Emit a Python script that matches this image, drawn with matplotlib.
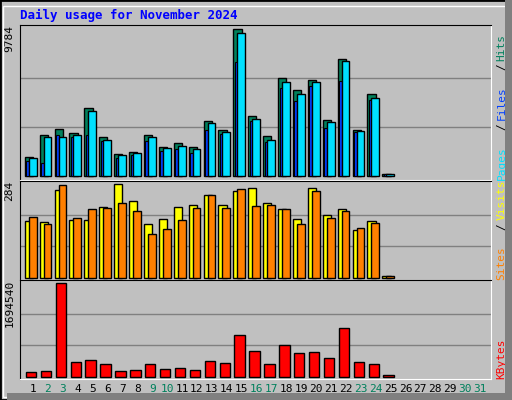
import matplotlib
matplotlib.use("Agg")
import matplotlib.pyplot as plt
from matplotlib.patches import Rectangle

days = list(range(1, 32))
hits = [1284, 2745, 3143, 2878, 4538, 2612, 1483, 1616, 2745, 1948, 2214, 1948, 3675, 3077, 9784, 4007, 2678, 6530, 5733, 6397, 3741, 7792, 3077, 5468, 177]
files = [1217, 2612, 2612, 2745, 4339, 2413, 1417, 1550, 2612, 1882, 2014, 1815, 3542, 2944, 9518, 3807, 2413, 6265, 5468, 6265, 3608, 7659, 3010, 5202, 155]
pages = [1018, 885, 2745, 2612, 2745, 2346, 1217, 1417, 2346, 1682, 1815, 1550, 3077, 2811, 7593, 3675, 2280, 5866, 5003, 5999, 3210, 6331, 2944, 5069, 155]
visits = [173, 170, 265, 176, 176, 213, 284, 232, 161, 179, 213, 219, 250, 219, 262, 272, 225, 207, 179, 272, 191, 207, 145, 173, 6]
sites = [185, 164, 281, 182, 207, 210, 225, 201, 133, 148, 176, 210, 250, 210, 269, 216, 219, 207, 164, 262, 182, 201, 151, 167, 6]
kbytes = [80400, 99000, 1694540, 266000, 303000, 229000, 99000, 117500, 229000, 136000, 155000, 117500, 284000, 247000, 748000, 470000, 229000, 581000, 433000, 451000, 340000, 878000, 266000, 229000, 24700]
weekends = [2, 3, 9, 10, 16, 17, 23, 24, 30, 31]
title = "Daily usage for November 2024"

W, H = 512, 400
fig = plt.figure(figsize=(W/100, H/100), dpi=100)
fig.patch.set_facecolor("#c0c0c0")
mono = "DejaVu Sans Mono"

# bevel border
fig.add_artist(Rectangle((0, 0), 1, 1, transform=fig.transFigure, fill=False, edgecolor="black", lw=2))
fig.add_artist(Rectangle((3/W, 3/H), 1-9/W, 1-9/H, transform=fig.transFigure, fill=False, edgecolor="white", lw=1))
fig.add_artist(Rectangle((7/W, 0), 1-7/W, 7/H, transform=fig.transFigure, color="#808080", lw=0))
fig.add_artist(Rectangle((1-7/W, 0), 7/W, 1, transform=fig.transFigure, color="#808080", lw=0))

fig.text(20/W, 1-15/H, title, color="#0000ff", fontsize=9, fontweight="bold", family=mono, va="center")

def mkax(top, bottom):
    ax = fig.add_axes([20/W, 1-bottom/H, 471/W, (bottom-top)/H])
    ax.set_facecolor("#c0c0c0")
    for s in ax.spines.values():
        s.set_color("white")
    ax.spines["left"].set_color("black")
    ax.spines["top"].set_color("black")
    ax.set_xlim(0.13, 31.74)
    ax.set_xticks([]); ax.set_yticks([])
    return ax

def grid(ax, m):
    for f in (1/3, 2/3):
        ax.axhline(m*f, color="#808080", lw=1, zorder=0)
    ax.set_ylim(-m*0.024, m*1.03)
    ax.text(-0.012, 1, str(m), transform=ax.transAxes, rotation=90, ha="right", va="top",
            fontsize=8, family=mono)

n = len(hits)
x = days[:n]
ax1 = mkax(25, 180)
m1 = max(hits)
grid(ax1, m1)
ax1.bar([d-0.55 for d in x], hits, width=0.55, align="edge", color="#00805c", edgecolor="black", lw=1, zorder=2)
ax1.bar([d-0.45 for d in x], pages, width=0.2, align="edge", color="#0040ff", edgecolor="black", lw=0.8, zorder=3)
ax1.bar([d-0.28 for d in x], files, width=0.52, align="edge", color="#00e0ff", edgecolor="black", lw=1, zorder=4)
def rlabel(ax, parts):
    y = 0.0
    for txt, col in parts:
        t = ax.text(1.012, y, txt, transform=ax.transAxes, rotation=90, ha="left", va="bottom",
                    color=col, fontsize=8, family=mono)
        y += len(txt) * 0.0655 * (152 / (ax.get_position().height * H))
rlabel(ax1, [("Pages", "#00e0ff"), ("/", "black"), ("Files", "#0040ff"), ("/", "black"), ("Hits", "#00805c")])

ax2 = mkax(181, 280)
m2 = max(visits)
grid(ax2, m2)
ax2.bar([d-0.55 for d in x], visits, width=0.55, align="edge", color="#ffff00", edgecolor="black", lw=1, zorder=2)
ax2.bar([d-0.28 for d in x], sites, width=0.52, align="edge", color="#ff8000", edgecolor="black", lw=1, zorder=3)
rlabel(ax2, [("Sites", "#ff8000"), ("/", "black"), ("Visits", "#ffff00")])

ax3 = mkax(280, 379)
m3 = max(kbytes)
grid(ax3, m3)
ax3.bar([d-0.48 for d in x], kbytes, width=0.7, align="edge", color="#ff0000", edgecolor="black", lw=1, zorder=2)
rlabel(ax3, [("KBytes", "#ff0000")])

for d in days:
    ax3.text(d, -0.1, str(d), transform=ax3.get_xaxis_transform(), ha="center", va="center",
             fontsize=8, family=mono, color="#00805c" if d in weekends else "black")

fig.savefig("out.png", dpi=100, facecolor=fig.get_facecolor())
